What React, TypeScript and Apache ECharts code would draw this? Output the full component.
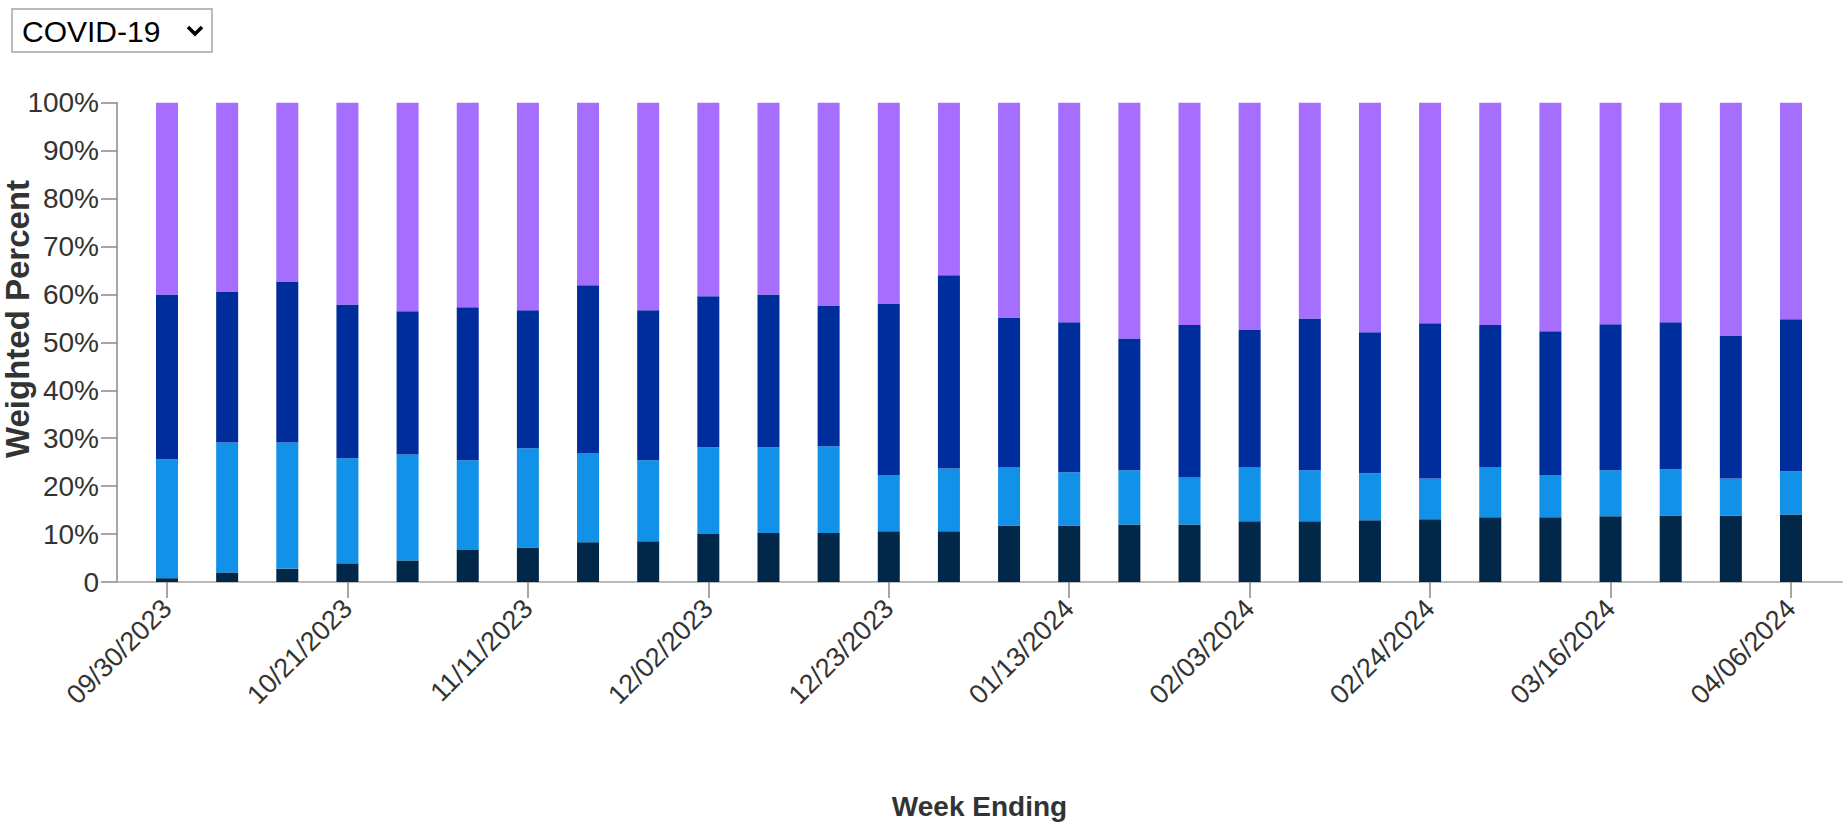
import React, { useEffect, useRef } from "react";
import * as echarts from "echarts";

const weeks = [
  "09/30/2023", "10/07/2023", "10/14/2023", "10/21/2023", "10/28/2023", "11/04/2023", "11/11/2023",
  "11/18/2023", "11/25/2023", "12/02/2023", "12/09/2023", "12/16/2023", "12/23/2023", "12/30/2023",
  "01/06/2024", "01/13/2024", "01/20/2024", "01/27/2024", "02/03/2024", "02/10/2024", "02/17/2024",
  "02/24/2024", "03/02/2024", "03/09/2024", "03/16/2024", "03/23/2024", "03/30/2024", "04/06/2024",
];

const groupA = [0.8, 2.0, 2.8, 3.9, 4.5, 6.8, 7.2, 8.3, 8.5, 10.0, 10.2, 10.2, 10.6, 10.6, 11.8, 11.8, 12.0, 12.0, 12.7, 12.7, 12.9, 13.1, 13.5, 13.5, 13.7, 13.9, 13.9, 14.1];
const groupB = [24.8, 27.1, 26.3, 21.9, 22.1, 18.6, 20.7, 18.6, 16.9, 18.1, 17.9, 18.1, 11.7, 13.1, 12.1, 11.1, 11.3, 9.8, 11.2, 10.6, 9.8, 8.5, 10.4, 8.8, 9.6, 9.6, 7.7, 9.0];
const groupC = [34.4, 31.5, 33.6, 32.1, 29.9, 31.9, 28.8, 35.0, 31.3, 31.5, 31.9, 29.4, 35.8, 40.3, 31.3, 31.3, 27.5, 31.8, 28.8, 31.7, 29.4, 32.4, 29.7, 30.0, 30.5, 30.7, 29.7, 31.7];
const groupD = [40.0, 39.4, 37.3, 42.1, 43.5, 42.7, 43.3, 38.1, 43.3, 40.4, 40.0, 42.3, 41.9, 36.0, 44.8, 45.8, 49.2, 46.4, 47.3, 45.0, 47.9, 46.0, 46.4, 47.7, 46.2, 45.8, 48.7, 45.2];

const seriesNames = ["Group 1", "Group 2", "Group 3", "Group 4"];
const seriesColors = ["#012749", "#1192e8", "#002d9c", "#a56eff"];
const labelEvery = 3;

const FONT = "'Liberation Sans', Arial, Helvetica, sans-serif";

export default function App() {
  const ref = useRef<HTMLDivElement>(null);

  useEffect(() => {
    const chart = echarts.init(ref.current!, null, { renderer: "svg" });
    const groups = [groupA, groupB, groupC, groupD];

    chart.setOption({
      animation: false,
      backgroundColor: "#ffffff",
      grid: [
        {
          left: 136.93,
          right: 21.93,
          top: 102.7,
          bottom: 243,
          outerBoundsMode: "none",
          containLabel: false,
        },
        {
          left: 117,
          right: 1,
          top: 102.7,
          bottom: 243,
          outerBoundsMode: "none",
          containLabel: false,
        },
      ],
      xAxis: [
        {
          type: "category",
          gridIndex: 0,
          data: weeks,
          boundaryGap: true,
          splitLine: { show: false },
          axisLine: { show: false },
          axisTick: {
            show: true,
            alignWithLabel: true,
            interval: labelEvery - 1,
            length: 16,
            lineStyle: { color: "#888888", width: 1.5 },
          },
          axisLabel: {
            interval: labelEvery - 1,
            rotate: 45,
            margin: 22,
            fontFamily: FONT,
            fontSize: 27,
            color: "#333",
          },
        },
        {
          type: "value",
          gridIndex: 1,
          min: 0,
          max: 1,
          name: "Week Ending",
          nameLocation: "middle",
          nameGap: 210,
          nameTextStyle: { fontFamily: FONT, fontSize: 28, fontWeight: "bold", color: "#333" },
          splitLine: { show: false },
          axisLine: { show: true, onZero: false, lineStyle: { color: "#bbbbbb", width: 2 } },
          axisTick: { show: false },
          axisLabel: { show: false },
        },
      ],
      yAxis: [
        {
          type: "value",
          gridIndex: 0,
          min: 0,
          max: 100,
          interval: 10,
          offset: 19.93,
          splitLine: { show: false },
          axisLine: { show: true, onZero: false, lineStyle: { color: "#888888", width: 1.5 } },
          axisTick: { show: true, length: 16, lineStyle: { color: "#888888", width: 1.5 } },
          axisLabel: {
            margin: 18,
            fontFamily: FONT,
            fontSize: 28,
            color: "#333",
            formatter: (v: number) => (v === 0 ? "0" : v + "%"),
          },
        },
        {
          type: "value",
          gridIndex: 1,
          min: 0,
          max: 1,
          show: false,
        },
      ],
      series: groups.map((g, s) => ({
        name: seriesNames[s],
        type: "bar",
        stack: "total",
        xAxisIndex: 0,
        yAxisIndex: 0,
        barWidth: 22,
        itemStyle: { color: seriesColors[s] },
        data: g,
      })),
      graphic: [
        {
          type: "text",
          x: 17,
          y: 319,
          rotation: Math.PI / 2,
          style: {
            text: "Weighted Percent",
            fontFamily: FONT,
            fontSize: 33,
            fontWeight: "bold",
            fill: "#333",
            align: "center",
            verticalAlign: "middle",
          },
        },
        {
          type: "rect",
          shape: { x: 12, y: 9, width: 200, height: 43 },
          style: { fill: "#ffffff", stroke: "#bbbbbb", lineWidth: 2 },
        },
        {
          type: "text",
          x: 22,
          y: 31,
          style: {
            text: "COVID-19",
            fontFamily: FONT,
            fontSize: 30,
            fill: "#000",
            verticalAlign: "middle",
          },
        },
        {
          type: "polyline",
          shape: { points: [[188, 27], [195, 34], [202, 27]] },
          style: { stroke: "#000", lineWidth: 3.5, fill: "none" },
        },
      ],
    });

    return () => chart.dispose();
  }, []);

  return (
    <div
      ref={ref}
      style={{ position: "fixed", left: 0, top: 0, width: 1843, height: 825, background: "#fff" }}
    />
  );
}
